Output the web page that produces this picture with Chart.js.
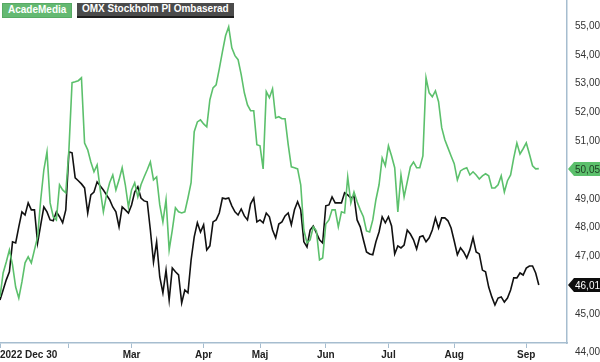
<!DOCTYPE html>
<html>
<head>
<meta charset="utf-8">
<script src="https://cdn.jsdelivr.net/npm/chart.js@4.4.0/dist/chart.umd.min.js"></script>
<style>
  body { margin: 0; background: #fff; }
  #wrap { position: relative; width: 600px; height: 362px; }
  .legend-tag {
    position: absolute; top: 3px; height: 15px; line-height: 14px;
    font: bold 10px "Liberation Sans", Arial, sans-serif; color: #fff;
    padding: 0 5px; box-sizing: border-box; white-space: nowrap;
  }
  #tagAcade { left: 2px; background: #64b972; border: 1px solid #57a964; }
  #tagOmx { left: 77px; background: #4b4b4b; border-bottom: 2px solid #1e1e1e; }
</style>
</head>
<body>
<div id="wrap">
  <canvas id="chart"></canvas>
  <div class="legend-tag" id="tagAcade">AcadeMedia</div>
  <div class="legend-tag" id="tagOmx">OMX Stockholm PI Ombaserad</div>
</div>
<script>
// --- Data (one value per trading day, 2022-12-30 .. 2023-09-07) ---
const acadeMedia = [
  45.60, 46.43, 46.81, 47.23, 46.71, 45.94, 45.56, 46.12, 46.78, 46.99,
  46.78, 47.23, 47.68, 48.97, 50.01, 50.63, 48.86, 48.38, 48.27, 49.49,
  49.31, 49.21, 50.70, 53.03, 53.06, 53.10, 53.20, 50.94, 50.70, 50.28,
  49.94, 50.18, 49.31, 48.55, 49.14, 49.56, 49.83, 49.31, 49.66, 50.08,
  49.49, 48.72, 49.31, 49.56, 49.07, 49.49, 49.76, 50.01, 50.28, 49.66,
  49.76, 48.79, 48.20, 48.97, 47.23, 47.92, 48.69, 48.55, 48.51, 48.55,
  49.03, 49.56, 51.33, 51.67, 51.74, 51.60, 51.50, 52.44, 52.85, 52.96,
  53.51, 54.10, 54.66, 54.97, 54.24, 53.97, 53.83, 53.31, 52.68, 52.26,
  52.06, 52.06, 50.88, 50.84, 50.04, 52.72, 52.51, 52.82, 51.81, 51.85,
  51.78, 51.78, 50.88, 50.11, 50.08, 50.04, 49.49, 47.92, 47.47, 47.58,
  48.03, 47.89, 46.88, 46.95, 48.13, 48.27, 48.62, 48.62, 48.03, 48.55,
  48.51, 49.76, 48.86, 49.24, 48.90, 48.62, 48.38, 47.89, 47.85, 48.27,
  48.97, 49.49, 50.42, 50.15, 50.84, 50.49, 50.08, 48.55, 49.83, 49.07,
  49.59, 50.11, 50.28, 50.08, 50.08, 50.49, 53.20, 52.68, 52.54, 52.75,
  52.37, 51.47, 51.05, 50.77, 50.49, 50.22, 49.66, 49.97, 50.04, 50.08,
  49.83, 49.94, 49.83, 49.69, 49.80, 49.87, 49.80, 49.38, 49.38, 49.49,
  49.80, 49.24, 49.63, 49.83, 50.42, 50.94, 50.56, 50.74, 50.94, 50.56,
  50.15, 50.04, 50.05
];
const omxPi = [
  45.49, 45.84, 46.19, 46.47, 47.51, 47.47, 48.03, 48.55, 48.44, 48.86,
  48.62, 48.62, 47.47, 48.10, 48.72, 48.55, 48.27, 48.24, 48.55, 48.38,
  48.17, 48.62, 50.63, 50.60, 49.73, 49.63, 49.52, 49.38, 48.51, 49.14,
  49.24, 49.59, 49.45, 49.31, 49.14, 48.97, 48.72, 48.55, 48.03, 48.72,
  48.62, 48.51, 48.79, 49.24, 49.42, 49.03, 48.93, 48.90, 47.92, 46.81,
  47.51, 46.29, 45.74, 46.53, 45.49, 46.60, 46.47, 46.36, 45.39, 45.84,
  45.74, 46.88, 47.68, 48.17, 47.85, 48.10, 47.23, 47.37, 48.20, 48.27,
  48.51, 49.03, 49.00, 49.03, 48.76, 48.55, 48.44, 48.65, 48.41, 48.27,
  48.83, 49.03, 48.20, 48.27, 48.17, 48.51, 48.38, 47.92, 47.65, 48.13,
  48.20, 48.41, 48.51, 48.10, 48.62, 48.90, 48.62, 47.51, 47.33, 47.92,
  48.06, 47.82, 47.58, 47.47, 48.76, 48.79, 49.07, 48.86, 48.86, 48.86,
  49.21, 49.14, 49.03, 49.10, 48.27, 48.03, 47.58, 47.16, 47.09, 47.06,
  47.51, 47.85, 48.38, 48.17, 48.38, 48.06, 47.09, 47.37, 47.30, 47.40,
  47.92, 47.78, 47.58, 47.26, 47.68, 47.72, 47.51, 47.65, 47.92, 48.34,
  47.99, 48.34, 48.34, 48.24, 47.99, 47.54, 47.06, 47.30, 47.16, 46.95,
  47.23, 47.65, 47.16, 47.09, 46.53, 46.47, 45.94, 45.60, 45.32, 45.56,
  45.60, 45.42, 45.56, 45.84, 46.26, 46.26, 46.43, 46.36, 46.60, 46.67,
  46.67, 46.43, 46.01
];

// x ticks sit on trading-day indices (month starts)
const tickIdx = [0, 22, 42, 65, 83, 104, 124, 145, 168];
const tickLabels = ['2022 Dec 30', '', 'Mar', 'Apr', 'Maj', 'Jun', 'Jul', 'Aug', 'Sep'];
const yTicks = [44, 45, 46, 47, 48, 49, 50, 51, 52, 53, 54, 55];
const X_END = 181;
const Y_MIN = 44;
const Y_MAX = 55.9;

// --- Helpers ---
const FONT = '"Liberation Sans", Arial, sans-serif';
const axisColor = '#a6bdcf';
const fmt = v => v.toFixed(2).replace('.', ',');
const lastOf = arr => arr[arr.length - 1];

// value tags at the right edge for the last close of each series
const lastValueTags = {
  id: 'lastValueTags',
  afterDraw(chart) {
    const { ctx, chartArea, scales: { y } } = chart;
    chart.data.datasets.forEach(ds => {
      const v = lastOf(ds.data).y;
      const py = Math.round(y.getPixelForValue(v));
      const x0 = chartArea.right + 1;
      ctx.save();
      ctx.fillStyle = ds.tagBg;
      ctx.beginPath();
      ctx.moveTo(x0, py);
      ctx.lineTo(x0 + 6, py - 7);
      ctx.lineTo(600, py - 7);
      ctx.lineTo(600, py + 7);
      ctx.lineTo(x0 + 6, py + 7);
      ctx.closePath();
      ctx.fill();
      ctx.fillStyle = ds.tagText;
      ctx.font = '10px ' + FONT;
      ctx.textBaseline = 'middle';
      ctx.fillText(fmt(v), x0 + 7, py + 1);
      ctx.restore();
    });
  }
};

new Chart(document.getElementById('chart'), {
  type: 'line',
  data: {
    datasets: [
      {
        label: 'AcadeMedia',
        data: acadeMedia.map((v, i) => ({ x: i, y: v })),
        borderColor: '#5cc06c',
        borderWidth: 1.6,
        pointRadius: 0,
        tension: 0,
        tagBg: '#5cc06c',
        tagText: '#1d3b22'
      },
      {
        label: 'OMX Stockholm PI Ombaserad',
        data: omxPi.map((v, i) => ({ x: i, y: v })),
        borderColor: '#111111',
        borderWidth: 1.6,
        pointRadius: 0,
        tension: 0,
        tagBg: '#0d0d0d',
        tagText: '#ffffff'
      }
    ]
  },
  options: {
    responsive: true,
    maintainAspectRatio: false,
    animation: false,
    layout: { padding: 0, autoPadding: false },
    plugins: { legend: { display: false }, tooltip: { enabled: false } },
    scales: {
      x: {
        type: 'linear',
        min: 0,
        max: X_END,
        afterBuildTicks: s => { s.ticks = tickIdx.concat([X_END]).map(v => ({ value: v })); },
        afterFit: s => { s.height = 19; s.paddingLeft = 0; s.paddingRight = 0; },
        grid: {
          drawOnChartArea: false,
          drawTicks: true,
          tickLength: 5,
          tickColor: c => (c.index === tickIdx.length ? 'rgba(0,0,0,0)' : axisColor)
        },
        border: { color: axisColor, width: 1.5 },
        ticks: {
          autoSkip: false,
          maxRotation: 0,
          align: 'inner',
          padding: 1,
          color: '#222',
          font: { family: FONT, size: 10, weight: 'bold' },
          callback: (v, i) => tickLabels[i] ?? ''
        }
      },
      y: {
        position: 'right',
        min: Y_MIN,
        max: Y_MAX,
        afterBuildTicks: s => { s.ticks = yTicks.map(v => ({ value: v })); },
        afterFit: s => { s.width = 33; s.paddingTop = 0; s.paddingBottom = 0; },
        grid: { drawOnChartArea: false, drawTicks: false },
        border: { color: axisColor, width: 1.5 },
        ticks: {
          autoSkip: false,
          padding: 8,
          color: '#333',
          font: { family: FONT, size: 10, lineHeight: 1.8 },
          callback: v => {
            // hide labels that sit under the last-value tags
            if (Math.abs(v - lastOf(acadeMedia)) < 0.5 || Math.abs(v - lastOf(omxPi)) < 0.5) return '';
            if (v === Y_MIN) return ['', fmt(v)];
            return fmt(v);
          }
        }
      }
    }
  },
  plugins: [lastValueTags]
});
</script>
</body>
</html>
